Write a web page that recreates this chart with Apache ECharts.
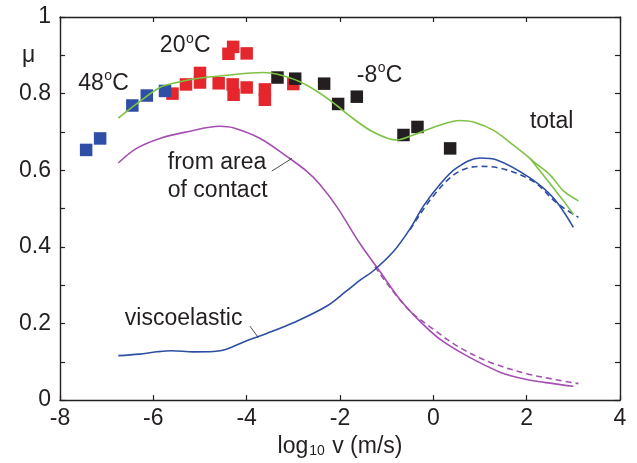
<!DOCTYPE html>
<html>
<head>
<meta charset="utf-8">
<script src="https://cdn.jsdelivr.net/npm/echarts@6/dist/echarts.min.js"></script>
<style>
  html, body { margin: 0; padding: 0; background: #fff; }
  #chart { width: 637px; height: 463px; }
</style>
</head>
<body>
<div id="chart"></div>
<script>
// Friction coefficient vs. log10 sliding speed

// Axis ticks
const xTicks = { min: -8, max: 4, step: 2 };
const yTicks = { min: 0, max: 1, step: 0.2 };

// Measured points, 48 °C
const x48 = [-7.44, -7.14, -6.45, -6.14, -5.75];
const y48 = [0.653, 0.683, 0.769, 0.795, 0.807];

// Measured points, 20 °C
const x20 = [-5.59, -5.30, -5.00, -5.00, -4.60, -4.39, -4.29, -4.30, -4.28, -4.00, -4.00, -3.61, -3.61, -3.00];
const y20 = [0.800, 0.824, 0.854, 0.829, 0.827, 0.904, 0.922, 0.824, 0.797, 0.905, 0.816, 0.811, 0.784, 0.825];

// Measured points, -8 °C
const xM8 = [-3.34, -2.96, -2.34, -2.04, -1.64, -0.64, -0.34, 0.36];
const yM8 = [0.842, 0.839, 0.826, 0.773, 0.792, 0.692, 0.713, 0.657];

// Total friction (model)
const xTotal = [-6.75, -6.36, -5.86, -5.5, -5.14, -4.43, -3.64, -3.36, -2.86, -2.43, -2.07, -1.72, -1.29, -0.79, -0.43, 0.07, 0.57, 0.86, 1.29, 1.71, 2.07, 2.14, 2.5, 2.79, 3.11];
const yTotal = [0.736, 0.773, 0.816, 0.829, 0.838, 0.848, 0.855, 0.851, 0.831, 0.801, 0.769, 0.735, 0.700, 0.679, 0.692, 0.715, 0.730, 0.726, 0.704, 0.666, 0.631, 0.623, 0.588, 0.546, 0.520];
const xTotal2 = [2.07, 2.3, 2.57, 2.79, 3.0];
const yTotal2 = [0.631, 0.596, 0.554, 0.520, 0.485];

// Viscoelastic contribution
const xVisco = [-6.75, -6.3, -5.93, -5.61, -5.14, -4.71, -4.43, -4.0, -3.57, -3.0, -2.29, -1.86, -1.57, -1.29, -0.86, -0.5, -0.21, 0.14, 0.5, 1.0, 1.36, 2.07, 2.57, 3.0];
const yVisco = [0.116, 0.120, 0.126, 0.129, 0.126, 0.127, 0.133, 0.155, 0.174, 0.202, 0.245, 0.285, 0.313, 0.337, 0.387, 0.447, 0.507, 0.563, 0.606, 0.632, 0.627, 0.580, 0.528, 0.451];
const xViscoAlt = [-0.5, 0.0, 0.5, 1.0, 1.36, 2.14, 2.64, 3.11];
const yViscoAlt = [0.445, 0.533, 0.593, 0.610, 0.607, 0.571, 0.515, 0.477];

// Contribution from the area of real contact
const xContact = [-6.75, -6.36, -5.86, -5.29, -4.57, -4.29, -3.71, -3.14, -2.71, -2.43, -2.07, -1.57, -1.14, -0.71, -0.29, 0.14, 0.71, 1.43, 2.0, 2.57, 3.0];
const yContact = [0.619, 0.657, 0.683, 0.700, 0.715, 0.711, 0.683, 0.636, 0.597, 0.563, 0.505, 0.408, 0.335, 0.262, 0.206, 0.159, 0.116, 0.073, 0.054, 0.043, 0.036];
const xContactAlt = [-1.25, -0.57, 0.0, 0.57, 1.21, 2.0, 2.64, 3.11];
const yContactAlt = [0.348, 0.241, 0.185, 0.137, 0.099, 0.069, 0.053, 0.043];

const FONT = "'Liberation Sans', Arial, Helvetica, sans-serif";
const INK = '#231f20';
const FS = 23;

const zip = (xs, ys) => xs.map((x, i) => [x, ys[i]]);

const chart = echarts.init(document.getElementById('chart'));

const axisLine = { show: true, onZero: false, lineStyle: { color: INK, width: 1.4 } };
const tick = { show: true, inside: true, length: 5, lineStyle: { color: INK, width: 1.2 } };

function lineSeries(xs, ys, color, dashed, z) {
  return {
    type: 'line',
    data: zip(xs, ys),
    showSymbol: false,
    symbol: 'none',
    smooth: 0.35,
    z: z || 3,
    lineStyle: { color: color, width: 1.6, type: dashed ? [6, 4] : 'solid' },
    silent: true
  };
}

function scatterSeries(xs, ys, color) {
  return {
    type: 'scatter',
    data: zip(xs, ys),
    symbol: 'rect',
    symbolSize: 12.5,
    itemStyle: { color: color, opacity: 1 },
    z: 2,
    silent: true
  };
}

chart.setOption({
  animation: false,
  backgroundColor: '#fff',
  grid: { left: 60, right: 17, top: 17, bottom: 58, containLabel: false },
  xAxis: [
    {
      type: 'value', min: xTicks.min, max: xTicks.max, interval: xTicks.step,
      position: 'bottom',
      axisLine: axisLine, axisTick: tick, splitLine: { show: false },
      axisLabel: { fontSize: FS, fontFamily: FONT, color: INK, margin: 7 },
      name: '{a|log}{b|10}{a| v (m/s)}',
      nameLocation: 'middle',
      nameGap: 28,
      nameTextStyle: {
        fontFamily: FONT, color: INK, verticalAlign: 'top',
        rich: {
          a: { fontSize: FS, fontFamily: FONT, color: INK },
          b: { fontSize: 14, fontFamily: FONT, color: INK, padding: [9, 1, 0, 1] }
        }
      }
    },
    {
      type: 'value', min: xTicks.min, max: xTicks.max, interval: xTicks.step,
      position: 'top',
      axisLine: axisLine, axisTick: tick, splitLine: { show: false },
      axisLabel: { show: false }
    }
  ],
  yAxis: [
    {
      type: 'value', min: yTicks.min, max: yTicks.max, interval: yTicks.step,
      position: 'left',
      axisLine: axisLine, axisTick: tick,
      minorTick: { show: true, splitNumber: 2, length: 5, lineStyle: { color: INK, width: 1.2 } },
      splitLine: { show: false }, minorSplitLine: { show: false },
      axisLabel: { fontSize: FS, fontFamily: FONT, color: INK, margin: 9 }
    },
    {
      type: 'value', min: yTicks.min, max: yTicks.max, interval: yTicks.step,
      position: 'right',
      axisLine: axisLine, axisTick: tick,
      minorTick: { show: true, splitNumber: 2, length: 5, lineStyle: { color: INK, width: 1.2 } },
      splitLine: { show: false },
      axisLabel: { show: false }
    }
  ],
  series: [
    scatterSeries(x20, y20, '#e5262c'),
    scatterSeries(x48, y48, '#2e4fa5'),
    scatterSeries(xM8, yM8, '#231f20'),
    lineSeries(xContact, yContact, '#a54fb3'),
    lineSeries(xContactAlt, yContactAlt, '#a54fb3', true),
    lineSeries(xVisco, yVisco, '#2d4fa2'),
    lineSeries(xViscoAlt, yViscoAlt, '#2d4fa2', true),
    lineSeries(xTotal, yTotal, '#7dc243', false, 4),
    lineSeries(xTotal2, yTotal2, '#7dc243', false, 4)
  ]
});

// Annotation text and leader lines, anchored in data coordinates
const px = (x, y) => chart.convertToPixel({ gridIndex: 0 }, [x, y]);

function text(str, x, y, size) {
  return {
    type: 'text', x: x, y: y, z: 10, silent: true,
    style: {
      text: str, fill: INK, font: (size || FS) + 'px ' + FONT,
      textAlign: 'left', textVerticalAlign: 'middle', verticalAlign: 'middle'
    }
  };
}

function label(str, x, y) {
  const p = px(x, y);
  return text(str, p[0], p[1]);
}

// Temperature label: number, raised small "o", then "C"
function tempLabel(num, x, y) {
  const p = px(x, y);
  const w = echarts.format.getTextRect
    ? echarts.format.getTextRect(num, FS + 'px ' + FONT).width
    : num.length * FS * 0.556;
  return {
    type: 'group', silent: true,
    children: [
      text(num, p[0], p[1]),
      text('o', p[0] + w + 0.5, p[1] - 7, 14),
      text('C', p[0] + w + 8.5, p[1])
    ]
  };
}

function leader(x1, y1, x2, y2) {
  const a = px(x1, y1), b = px(x2, y2);
  return {
    type: 'line', z: 10, silent: true,
    shape: { x1: a[0], y1: a[1], x2: b[0], y2: b[1] },
    style: { stroke: INK, lineWidth: 0.8 }
  };
}

chart.setOption({
  graphic: [
    {
      type: 'text', left: 22, top: 44, silent: true,
      style: { text: 'μ', fill: INK, font: FS + 'px ' + FONT }
    },
    tempLabel('20', -5.86, 0.925),
    tempLabel('48', -7.61, 0.827),
    tempLabel('-8', -1.64, 0.848),
    label('total', 2.07, 0.727),
    label('from area', -5.69, 0.619),
    label('of contact', -5.69, 0.546),
    label('viscoelastic', -6.61, 0.213),
    leader(-3.46, 0.598, -3.03, 0.631),
    leader(-3.93, 0.193, -3.75, 0.163)
  ]
});
</script>
</body>
</html>
